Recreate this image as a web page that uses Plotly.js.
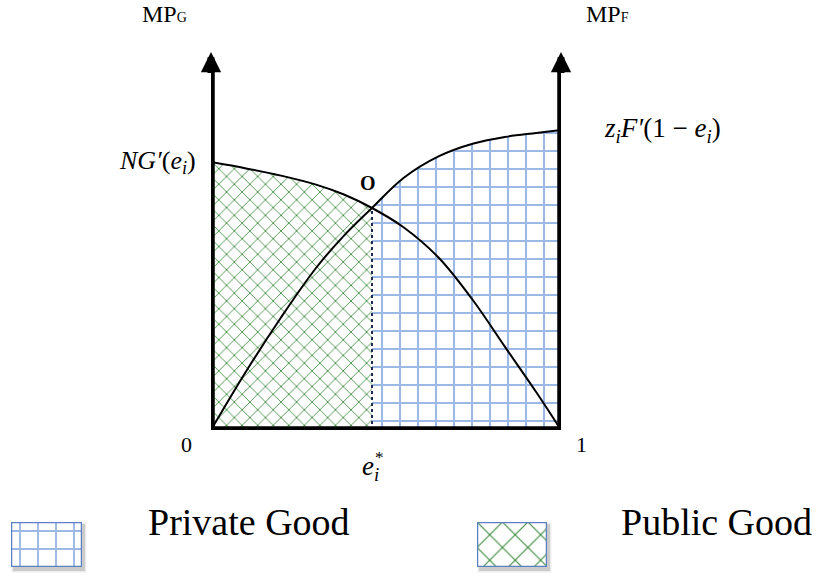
<!DOCTYPE html>
<html>
<head>
<meta charset="utf-8">
<script src="https://cdn.plot.ly/plotly-3.0.1.min.js"></script>
<style>
  html, body { margin: 0; padding: 0; background: #ffffff; }
  #chart { width: 819px; height: 577px; }
</style>
</head>
<body>
<div id="chart"></div>
<script>
// Share of effort e_i devoted to the public good, sampled along the horizontal axis
const effort = [0, 0.1, 0.2, 0.3, 0.38, 0.46, 0.55, 0.65, 0.75, 0.84, 0.93, 1.0];
// Marginal product of the public good, N·G'(e_i)
const mpPublic = [0.893, 0.872, 0.848, 0.818, 0.785, 0.74, 0.676, 0.575, 0.43, 0.277, 0.125, 0.0];
// Marginal product of the private good, z_i·F'(1 − e_i)
const mpPrivate = [0, 0.195, 0.375, 0.54, 0.648, 0.74, 0.84, 0.912, 0.955, 0.977, 0.99, 1.0];
// Equilibrium effort e_i*
const eStar = 0.46;
// Vertical extent of the two marginal-product axes
const axisTop = 1.26;
const arrowBase = 1.195;
// Text
const endLabels = ['0', '1'];
const legendLabels = ['Private Good', 'Public Good'];

const W = 819, H = 577;
const px = v => v / W;           // horizontal pixel -> paper
const py = v => (H - v) / H;     // vertical pixel -> paper

const serif = 'Liberation Serif, Times New Roman, serif';
const green = '#3a8a3a';
const blue = '#9cb8e4';
const border = '#5b80c2';

// split the curves at the equilibrium
const leftIdx = effort.map((e, i) => i).filter(i => effort[i] <= eStar);
const rightIdx = effort.map((e, i) => i).filter(i => effort[i] >= eStar);
const starIdx = effort.indexOf(eStar);

const publicPattern = { shape: 'x', size: 11, solidity: 0.15, fgcolor: green, bgcolor: '#ffffff' };
const privatePattern = { shape: '+', size: 18, solidity: 0.22, fgcolor: blue, bgcolor: '#ffffff' };

const traces = [
  // public-good area under N·G' up to e*
  {
    x: leftIdx.map(i => effort[i]), y: leftIdx.map(i => mpPublic[i]),
    type: 'scatter', mode: 'lines', fill: 'tozeroy',
    fillcolor: '#ffffff', fillpattern: publicPattern,
    line: { color: '#7c9fd6', width: 1, shape: 'spline', smoothing: 1 },
    hoverinfo: 'skip', cliponaxis: false
  },
  // private-good area under z·F' from e* to 1
  {
    x: rightIdx.map(i => effort[i]), y: rightIdx.map(i => mpPrivate[i]),
    type: 'scatter', mode: 'lines', fill: 'tozeroy',
    fillcolor: '#ffffff', fillpattern: privatePattern,
    line: { color: '#7c9fd6', width: 1, shape: 'spline', smoothing: 1 },
    hoverinfo: 'skip', cliponaxis: false
  },
  // dotted drop line at e*
  {
    x: [eStar, eStar], y: [0, mpPublic[starIdx]],
    type: 'scatter', mode: 'lines',
    line: { color: '#1c2b4f', width: 2, dash: 'dot' },
    hoverinfo: 'skip'
  },
  // N·G'(e_i)
  {
    x: effort, y: mpPublic, type: 'scatter', mode: 'lines',
    line: { color: '#000000', width: 2, shape: 'spline', smoothing: 1 },
    hoverinfo: 'skip', cliponaxis: false
  },
  // z_i·F'(1 − e_i)
  {
    x: effort, y: mpPrivate, type: 'scatter', mode: 'lines',
    line: { color: '#000000', width: 2, shape: 'spline', smoothing: 1 },
    hoverinfo: 'skip', cliponaxis: false
  },
  // thick frame: left axis, base line, right axis
  {
    x: [0, 0, 1, 1], y: [arrowBase, 0, 0, arrowBase], type: 'scatter', mode: 'lines',
    line: { color: '#000000', width: 7.5 },
    hoverinfo: 'skip', cliponaxis: false
  }
];

// legend swatches, each drawn on its own small axes
const unit = [0, 1, 1, 0, 0];
const unitY = [0, 0, 1, 1, 0];
traces.push({
  x: unit, y: unitY, xaxis: 'x2', yaxis: 'y2', type: 'scatter', mode: 'lines', fill: 'toself',
  fillcolor: '#ffffff', fillpattern: { shape: '+', size: 18, solidity: 0.2, fgcolor: blue, bgcolor: '#ffffff' },
  line: { color: border, width: 2.5 }, hoverinfo: 'skip', cliponaxis: false
});
traces.push({
  x: unit, y: unitY, xaxis: 'x3', yaxis: 'y3', type: 'scatter', mode: 'lines', fill: 'toself',
  fillcolor: '#ffffff', fillpattern: { shape: 'x', size: 18, solidity: 0.12, fgcolor: green, bgcolor: '#ffffff' },
  line: { color: border, width: 2.5 }, hoverinfo: 'skip', cliponaxis: false
});

const sw1 = [px(11), px(82)], sw2 = [px(477), px(547)], swY = [py(567), py(522)];

const hidden = { visible: false, fixedrange: true };

const annotations = [
  // arrow heads on the two vertical axes
  { x: 0, y: axisTop, xref: 'x', yref: 'y', axref: 'x', ayref: 'y', ax: 0, ay: arrowBase - 0.01,
    text: '', showarrow: true, arrowhead: 2, arrowsize: 0.58, arrowwidth: 7, arrowcolor: '#000' },
  { x: 1, y: axisTop, xref: 'x', yref: 'y', axref: 'x', ayref: 'y', ax: 1, ay: arrowBase - 0.01,
    text: '', showarrow: true, arrowhead: 2, arrowsize: 0.58, arrowwidth: 7, arrowcolor: '#000' },
  // axis names
  { x: px(164), y: py(14), xref: 'paper', yref: 'paper', xanchor: 'center', yanchor: 'middle', showarrow: false,
    text: 'MP<span style="font-size:14px">G</span>', font: { family: serif, size: 24, color: '#000' } },
  { x: px(607), y: py(14), xref: 'paper', yref: 'paper', xanchor: 'center', yanchor: 'middle', showarrow: false,
    text: 'MP<span style="font-size:14px">F</span>', font: { family: serif, size: 24, color: '#000' } },
  // curve labels
  { x: 0, y: mpPublic[0], xref: 'x', yref: 'y', xanchor: 'right', xshift: -13, yshift: 0, showarrow: false,
    text: '<i>NG′</i>(<i>e<sub>i</sub></i>)', font: { family: serif, size: 26, color: '#000' } },
  { x: 1, y: mpPrivate[mpPrivate.length - 1], xref: 'x', yref: 'y', xanchor: 'left', xshift: 41, yshift: 0, showarrow: false,
    text: '<i>z<sub>i</sub>F′</i>(1 − <i>e<sub>i</sub></i>)', font: { family: serif, size: 27, color: '#000' } },
  // equilibrium point
  { x: eStar, y: mpPublic[starIdx], xref: 'x', yref: 'y', xshift: -4, yshift: 25, showarrow: false,
    text: '<b>O</b>', font: { family: serif, size: 20, color: '#000' } },
  // ends of the effort axis
  { x: 0, y: 0, xref: 'x', yref: 'y', xshift: -24, yshift: -14, showarrow: false,
    text: endLabels[0], font: { family: serif, size: 22, color: '#000' } },
  { x: 1, y: 0, xref: 'x', yref: 'y', xshift: 20, yshift: -14, showarrow: false,
    text: endLabels[1], font: { family: serif, size: 22, color: '#000' } },
  // e_i*
  { x: eStar, y: 0, xref: 'x', yref: 'y', xshift: -2, yshift: -38, showarrow: false,
    text: '<i>e<sub>i</sub></i>', font: { family: serif, size: 27, color: '#000' } },
  { x: eStar, y: 0, xref: 'x', yref: 'y', xshift: 7, yshift: -27, showarrow: false,
    text: '*', font: { family: serif, size: 17, color: '#000' } },
  // legend text
  { x: px(146), y: py(545), xref: 'paper', yref: 'paper', xanchor: 'left', showarrow: false,
    text: legendLabels[0], font: { family: serif, size: 38, color: '#000' } },
  { x: px(619), y: py(545), xref: 'paper', yref: 'paper', xanchor: 'left', showarrow: false,
    text: legendLabels[1], font: { family: serif, size: 38, color: '#000' } }
];

// soft drop shadows behind the legend swatches
const shadow = (xs, grow, alpha) => ({
  type: 'rect', xref: 'paper', yref: 'paper', layer: 'below',
  x0: xs[0] + (2 - grow) / W, x1: xs[1] + (3 + grow) / W,
  y0: swY[0] - (4 + grow) / H, y1: swY[1] - (2 - grow) / H,
  fillcolor: 'rgba(0,0,0,' + alpha + ')', line: { width: 0 }
});

const layout = {
  width: W, height: H,
  margin: { l: 0, r: 0, t: 0, b: 0 },
  paper_bgcolor: '#ffffff', plot_bgcolor: 'rgba(0,0,0,0)',
  showlegend: false,
  xaxis: Object.assign({ domain: [px(211), px(561)], range: [0, 1], anchor: 'y' }, hidden),
  yaxis: Object.assign({ domain: [py(430), py(52)], range: [0, axisTop], anchor: 'x' }, hidden),
  xaxis2: Object.assign({ domain: sw1, range: [0, 1], anchor: 'y2' }, hidden),
  yaxis2: Object.assign({ domain: swY, range: [0, 1], anchor: 'x2' }, hidden),
  xaxis3: Object.assign({ domain: sw2, range: [0, 1], anchor: 'y3' }, hidden),
  yaxis3: Object.assign({ domain: swY, range: [0, 1], anchor: 'x3' }, hidden),
  annotations: annotations,
  shapes: [shadow(sw1, 1.5, 0.07), shadow(sw2, 1.5, 0.07), shadow(sw1, 0, 0.14), shadow(sw2, 0, 0.14)]
};

Plotly.newPlot('chart', traces, layout, { displayModeBar: false, staticPlot: true });
</script>
</body>
</html>
